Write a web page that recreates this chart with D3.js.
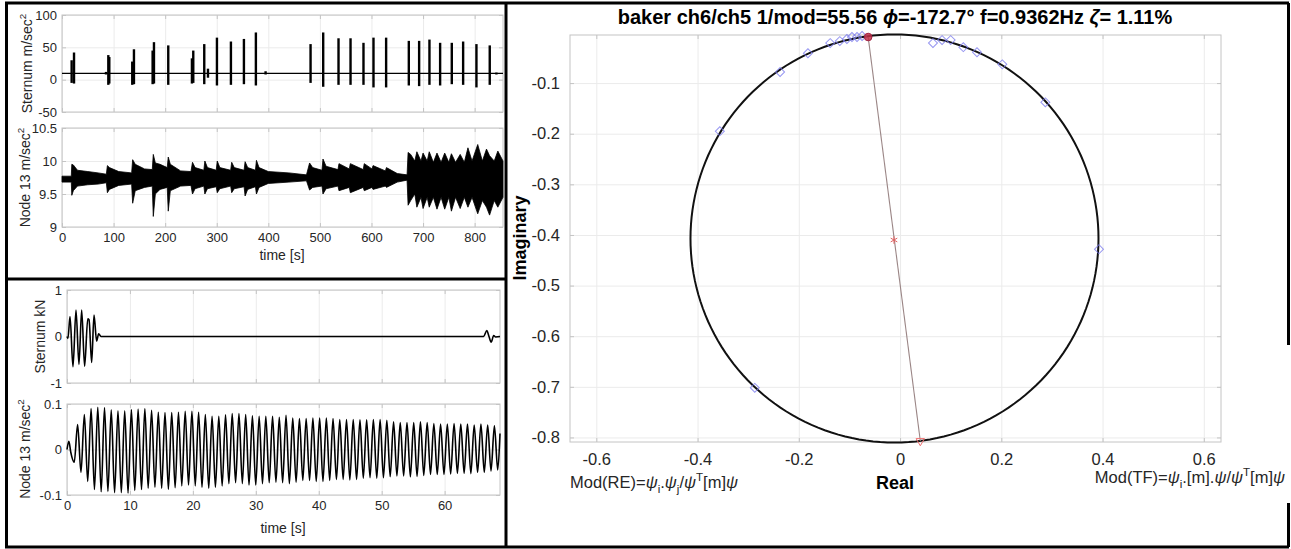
<!DOCTYPE html>
<html><head><meta charset="utf-8">
<script src="https://cdn.jsdelivr.net/npm/d3@7"></script>
<style>
body{margin:0;background:#fff}
svg{display:block}
text{font-family:"Liberation Sans",Arial,Helvetica,sans-serif;}
</style>
</head><body>
<svg id="c" width="1291" height="549"></svg>
<script>
// ---------------- DATA ----------------
// Top-left, panel 1: Sternum m/sec^2 bursts (time s, max, min)
const tlSternT   = [18.7, 23.3, 85.3, 89.8, 91.7, 136.2, 139.5, 175.7, 178.3, 206.0, 251.9, 254.5, 275.8, 283.0, 300.4, 327.5, 352.7, 375.9, 394.7, 481.9, 506.4, 536.1, 559.4, 584.5, 603.9, 628.4, 672.4, 692.4, 712.4, 733.1, 755.7, 777.7, 803.5, 829.3, 842.2];
const tlSternMax = [30, 42, 12, 38, 35, 28, 47, 45, 58, 53, 33, 45, 55, 17, 65, 59, 63, 73, 13, 55, 73, 64, 64, 57, 65, 65, 60, 60, 62, 57, 57, 59, 55, 53, 11];
const tlSternMin = [-5, -6, 8, -8, -6, -8, -7, -7, -6, -8, -6, -5, -7, 3, -9, -8, -7, -9, 8, -5, -11, -8, -8, -8, -12, -12, -9, -10, -8, -9, -7, -8, -12, -8, 8];
const tlSternBase = 9.8;
const tlTimeTicks = [0, 100, 200, 300, 400, 500, 600, 700, 800];
const tlSternTicks = [-50, 0, 50, 100];
// Top-left, panel 2: Node 13 m/sec^2 envelope (time s, upper, lower)
const tlNodeT  = [0, 18, 19, 22, 30, 50, 70, 86, 88, 92, 110, 135, 137, 142, 160, 175, 177, 181, 190, 204, 206, 210, 230, 250, 253, 258, 275, 277, 282, 299, 301, 306, 327, 329, 334, 353, 355, 360, 375, 377, 382, 400, 440, 474, 480, 486, 504, 506, 512, 535, 537, 557, 559, 584, 586, 601, 603, 627, 629, 650, 669, 671, 676, 684, 688, 696, 700, 708, 712, 720, 727, 735, 742, 750, 755, 763, 772, 780, 787, 795, 806, 815, 823, 829, 838, 845, 855];
const tlNodeHi = [9.77, 9.77, 9.95, 9.94, 9.86, 9.84, 9.82, 9.80, 9.93, 9.90, 9.84, 9.82, 10.02, 9.95, 9.88, 9.87, 10.10, 9.97, 9.95, 9.90, 10.06, 9.95, 9.85, 9.84, 9.98, 9.90, 9.86, 10.0, 9.90, 9.86, 10.0, 9.90, 9.86, 9.98, 9.90, 9.86, 9.99, 9.90, 9.86, 10.01, 9.90, 9.84, 9.82, 9.79, 9.97, 9.90, 9.86, 10.03, 9.92, 9.87, 9.96, 9.88, 9.96, 9.87, 9.96, 9.88, 9.93, 9.85, 9.90, 9.81, 9.79, 10.13, 10.10, 10.0, 10.14, 10.0, 10.12, 10.0, 10.14, 9.98, 10.12, 9.98, 10.12, 9.98, 10.11, 9.98, 10.10, 9.98, 10.20, 10.0, 10.25, 10.0, 10.18, 10.08, 10.0, 10.15, 10.0];
const tlNodeLo = [9.68, 9.68, 9.48, 9.55, 9.62, 9.64, 9.65, 9.67, 9.52, 9.57, 9.63, 9.65, 9.36, 9.55, 9.60, 9.62, 9.16, 9.50, 9.57, 9.60, 9.24, 9.55, 9.62, 9.63, 9.50, 9.58, 9.62, 9.50, 9.58, 9.61, 9.52, 9.58, 9.62, 9.52, 9.58, 9.61, 9.47, 9.57, 9.61, 9.50, 9.60, 9.66, 9.68, 9.70, 9.56, 9.60, 9.62, 9.50, 9.58, 9.62, 9.55, 9.60, 9.52, 9.60, 9.55, 9.60, 9.57, 9.62, 9.60, 9.68, 9.71, 9.33, 9.40, 9.50, 9.30, 9.45, 9.28, 9.45, 9.30, 9.45, 9.27, 9.45, 9.27, 9.45, 9.24, 9.45, 9.28, 9.45, 9.30, 9.45, 9.20, 9.40, 9.30, 9.18, 9.40, 9.30, 9.45];
const tlNodeTicks = [9, 9.5, 10, 10.5];

// Bottom-left, panel 3: Sternum kN
const blSternT = [0, 0.15, 0.48, 0.95, 1.43, 1.9, 2.33, 2.8, 3.3, 3.5, 3.92, 4.29, 4.71, 5.03, 5.4, 66.2, 66.7, 67.05, 67.4, 67.8, 68.1, 68.8];
const blSternV = [0, -0.04, 0.43, -0.65, 0.57, -0.6, 0.57, -0.64, 0.38, 0.36, -0.56, 0.46, -0.1, 0.06, 0, 0, 0.13, 0, -0.12, 0.02, -0.01, 0];
const blSternTicks = [-1, 0, 1];
const blTimeTicks = [0, 10, 20, 30, 40, 50, 60];
// Bottom-left, panel 4: Node 13 m/sec^2 (extrema)
const blNodeStartT = [0, 0.3, 0.6, 1.15];
const blNodeStartV = [0, 0.018, -0.006, -0.028];
const blNodePeakT = [1.69, 2.76, 3.83, 4.89, 5.96, 7.03, 8.10, 9.17, 10.23, 11.30, 12.37, 13.44, 14.51, 15.57, 16.64, 17.71, 18.78, 19.85, 20.91, 21.98, 23.05, 24.12, 25.19, 26.25, 27.32, 28.39, 29.46, 30.53, 31.59, 32.66, 33.73, 34.80, 35.87, 36.93, 38.00, 39.07, 40.14, 41.21, 42.27, 43.34, 44.41, 45.48, 46.55, 47.61, 48.68, 49.75, 50.82, 51.89, 52.95, 54.02, 55.09, 56.16, 57.23, 58.29, 59.36, 60.43, 61.50, 62.57, 63.63, 64.70, 65.77, 66.84, 67.91];
const blNodePeakV = [0.055, 0.077, 0.09, 0.093, 0.092, 0.087, 0.085, 0.085, 0.088, 0.089, 0.09, 0.086, 0.082, 0.081, 0.081, 0.082, 0.084, 0.084, 0.082, 0.077, 0.073, 0.073, 0.076, 0.079, 0.079, 0.077, 0.074, 0.073, 0.073, 0.073, 0.071, 0.075, 0.069, 0.068, 0.068, 0.069, 0.069, 0.069, 0.068, 0.066, 0.066, 0.066, 0.065, 0.065, 0.066, 0.066, 0.064, 0.061, 0.059, 0.059, 0.059, 0.061, 0.059, 0.057, 0.056, 0.056, 0.057, 0.056, 0.056, 0.054, 0.056, 0.054, 0.052];
const blNodeTroughT = [2.22, 3.29, 4.36, 5.43, 6.50, 7.56, 8.63, 9.70, 10.77, 11.84, 12.90, 13.97, 15.04, 16.11, 17.18, 18.24, 19.31, 20.38, 21.45, 22.52, 23.58, 24.65, 25.72, 26.79, 27.86, 28.92, 29.99, 31.06, 32.13, 33.20, 34.26, 35.33, 36.40, 37.47, 38.54, 39.60, 40.67, 41.74, 42.81, 43.88, 44.94, 46.01, 47.08, 48.15, 49.22, 50.28, 51.35, 52.42, 53.49, 54.56, 55.62, 56.69, 57.76, 58.83, 59.90, 60.96, 62.03, 63.10, 64.17, 65.24, 66.30, 67.37, 68.44];
const blNodeTroughV = [-0.05, -0.07, -0.088, -0.093, -0.092, -0.095, -0.095, -0.096, -0.09, -0.088, -0.085, -0.083, -0.085, -0.087, -0.084, -0.08, -0.078, -0.08, -0.083, -0.085, -0.083, -0.08, -0.075, -0.073, -0.075, -0.078, -0.078, -0.075, -0.073, -0.072, -0.073, -0.075, -0.072, -0.068, -0.068, -0.07, -0.07, -0.068, -0.066, -0.066, -0.067, -0.066, -0.063, -0.062, -0.063, -0.062, -0.06, -0.058, -0.058, -0.06, -0.059, -0.057, -0.055, -0.055, -0.055, -0.054, -0.052, -0.052, -0.053, -0.05, -0.05, -0.047, -0.045];
const blNodeEndT = [68.8];
const blNodeEndV = [0.035];
const blNodeTicks = [-0.1, 0, 0.1];

// Right panel: modal circle
const circCenter = [-0.011, -0.407];
const circRadius = 0.403;
const poleTop = [-0.063, -0.009];
const poleBottom = [0.040, -0.807];
const starPt = [-0.012, -0.41];
const ptsRe = [-0.356, -0.287, -0.237, -0.182, -0.138, -0.119, -0.105, -0.095, -0.085, -0.075, 0.065, 0.083, 0.100, 0.125, 0.152, 0.202, 0.287, 0.393];
const ptsIm = [-0.195, -0.702, -0.078, -0.041, -0.021, -0.017, -0.013, -0.009, -0.009, -0.007, -0.021, -0.015, -0.015, -0.029, -0.039, -0.063, -0.138, -0.428];
const reTicks = [-0.6, -0.4, -0.2, 0, 0.2, 0.4, 0.6];
const imTicks = [-0.8, -0.7, -0.6, -0.5, -0.4, -0.3, -0.2, -0.1];

// ---------------- DRAW ----------------
const svg = d3.select('#c');
const fmt = d => String(d);
const GRID = '#ebebeb', BOX = '#c4c4c4', TXT = '#262626';

function axes(g, x, y, xt, yt, showX, fs, padX, padY) {
  const [L, R] = x.range(), [B, T] = y.range();
  const gx = g.append('g').attr('transform', `translate(0,${B})`)
    .call(d3.axisBottom(x).tickValues(xt).tickSize(-(B - T)).tickFormat(''));
  const gy = g.append('g').attr('transform', `translate(${L},0)`)
    .call(d3.axisLeft(y).tickValues(yt).tickSize(-(R - L)).tickFormat(''));
  [gx, gy].forEach(a => { a.select('.domain').remove(); a.selectAll('line').attr('stroke', GRID); });
  g.append('rect').attr('x', L).attr('y', T).attr('width', R - L).attr('height', B - T)
    .attr('fill', 'none').attr('stroke', BOX).attr('stroke-width', 1);
  const mk = [
    [d3.axisBottom(x).tickValues(xt).tickSize(-4).tickPadding(padX).tickFormat(showX ? fmt : ''), `translate(0,${B})`],
    [d3.axisTop(x).tickValues(xt).tickSize(-4).tickFormat(''), `translate(0,${T})`],
    [d3.axisLeft(y).tickValues(yt).tickSize(-4).tickPadding(padY).tickFormat(fmt), `translate(${L},0)`],
    [d3.axisRight(y).tickValues(yt).tickSize(-4).tickFormat(''), `translate(${R},0)`]
  ];
  mk.forEach(([ax, tr]) => {
    const a = g.append('g').attr('transform', tr).call(ax);
    a.select('.domain').remove();
    a.selectAll('line').attr('stroke', BOX);
    a.selectAll('text').attr('fill', TXT).attr('font-size', fs)
      .attr('font-family', '"Liberation Sans",Arial,sans-serif');
  });
}

function rich(g, x, y, segs, size, opts = {}) {
  const t = g.append('text').attr('x', x).attr('y', y).attr('font-size', size)
    .attr('fill', opts.fill || TXT).attr('text-anchor', opts.anchor || 'start');
  if (opts.weight) t.attr('font-weight', opts.weight);
  if (opts.transform) t.attr('transform', opts.transform);
  let shift = 0;
  segs.forEach(([s, k]) => {
    const ts = t.append('tspan').text(s);
    const target = k === 'sub' ? size * 0.3 : k === 'sup' ? -size * 0.45 : 0;
    if (target - shift !== 0) ts.attr('dy', target - shift);
    shift = target;
    if (k === 'sub' || k === 'sup') ts.attr('font-size', size * 0.7);
    if (k === 'i') ts.attr('font-style', 'italic');
  });
  return t;
}

function ylab(g, cx, cy, segs, size) {
  rich(g, 0, size * 0.35, segs, size, { anchor: 'middle', transform: `translate(${cx},${cy}) rotate(-90)` });
}

// ---- Top-left panel 1
{
  const g = svg.append('g');
  const x = d3.scaleLinear().domain([0, 855]).range([62, 503]);
  const y = d3.scaleLinear().domain([-50, 100]).range([112, 15]);
  axes(g, x, y, tlTimeTicks, tlSternTicks, false, 13, 6, 5);
  g.append('line').attr('x1', x(0)).attr('x2', x(855)).attr('y1', y(tlSternBase)).attr('y2', y(tlSternBase))
    .attr('stroke', '#000').attr('stroke-width', 1.3);
  g.selectAll(null).data(tlSternT).join('line')
    .attr('x1', d => x(d)).attr('x2', d => x(d))
    .attr('y1', (d, i) => y(tlSternMax[i])).attr('y2', (d, i) => y(tlSternMin[i]))
    .attr('stroke', '#000').attr('stroke-width', 2.4);
  ylab(g, 27, 63.5, [['Sternum m/sec', 'n'], ['2', 'sup']], 14);
}
// ---- Top-left panel 2
{
  const g = svg.append('g');
  const x = d3.scaleLinear().domain([0, 855]).range([62, 503]);
  const y = d3.scaleLinear().domain([9, 10.5]).range([227, 128]);
  axes(g, x, y, tlTimeTicks, tlNodeTicks, true, 13, 6, 5);
  const area = d3.area().x((d, i) => x(tlNodeT[i])).y0((d, i) => y(tlNodeLo[i])).y1((d, i) => y(tlNodeHi[i]));
  g.append('path').datum(tlNodeT).attr('d', area).attr('fill', '#000').attr('stroke', '#000').attr('stroke-width', 0.8);
  ylab(g, 25, 177.5, [['Node 13 m/sec', 'n'], ['2', 'sup']], 14);
  g.append('text').attr('x', 282).attr('y', 260).attr('text-anchor', 'middle').attr('font-size', 14)
    .attr('fill', TXT).text('time [s]');
}
// ---- Bottom-left panel 3
{
  const g = svg.append('g');
  const x = d3.scaleLinear().domain([0, 68.8]).range([67, 500]);
  const y = d3.scaleLinear().domain([-1, 1]).range([383, 290]);
  axes(g, x, y, blTimeTicks, blSternTicks, false, 13, 6, 5);
  const line = d3.line().x(d => x(d[0])).y(d => y(d[1])).curve(d3.curveMonotoneX);
  g.append('path').datum(blSternT.map((t, i) => [t, blSternV[i]])).attr('d', line)
    .attr('fill', 'none').attr('stroke', '#000').attr('stroke-width', 1.6);
  ylab(g, 40, 336.5, [['Sternum kN', 'n']], 14);
}
// ---- Bottom-left panel 4
{
  const g = svg.append('g');
  const x = d3.scaleLinear().domain([0, 68.8]).range([67, 500]);
  const y = d3.scaleLinear().domain([-0.1, 0.1]).range([495, 404]);
  axes(g, x, y, blTimeTicks, blNodeTicks, true, 13, 6, 5);
  const pts = [];
  blNodeStartT.forEach((t, i) => pts.push([t, blNodeStartV[i]]));
  blNodePeakT.forEach((t, i) => pts.push([t, blNodePeakV[i]]));
  blNodeTroughT.forEach((t, i) => pts.push([t, blNodeTroughV[i]]));
  blNodeEndT.forEach((t, i) => pts.push([t, blNodeEndV[i]]));
  pts.sort((a, b) => a[0] - b[0]);
  const line = d3.line().x(d => x(d[0])).y(d => y(d[1])).curve(d3.curveMonotoneX);
  g.append('path').datum(pts).attr('d', line).attr('fill', 'none').attr('stroke', '#000').attr('stroke-width', 1.6);
  ylab(g, 25, 449, [['Node 13 m/sec', 'n'], ['2', 'sup']], 14);
  g.append('text').attr('x', 283).attr('y', 533).attr('text-anchor', 'middle').attr('font-size', 14)
    .attr('fill', TXT).text('time [s]');
}
// ---- Right panel
{
  const g = svg.append('g');
  const x = d3.scaleLinear().domain([-0.652, 0.634]).range([570, 1221]);
  const y = d3.scaleLinear().domain([-0.809, -0.005]).range([442, 35]);
  axes(g, x, y, reTicks, imTicks, true, 16.5, 11, 10);
  // circle
  const ang = d3.range(0, 361, 2).map(a => a * Math.PI / 180);
  const circ = d3.line().x(a => x(circCenter[0] + circRadius * Math.cos(a))).y(a => y(circCenter[1] + circRadius * Math.sin(a)));
  g.append('path').datum(ang).attr('d', circ).attr('fill', 'none').attr('stroke', '#111').attr('stroke-width', 2);
  // diameter line
  g.append('line').attr('x1', x(poleTop[0])).attr('y1', y(poleTop[1])).attr('x2', x(poleBottom[0])).attr('y2', y(poleBottom[1]))
    .attr('stroke', '#9a8585').attr('stroke-width', 1.1);
  // diamonds
  const dia = d3.symbol(d3.symbolSquare, 40);
  g.selectAll(null).data(ptsRe).join('path').attr('d', dia)
    .attr('transform', (d, i) => `translate(${x(d)},${y(ptsIm[i])}) rotate(45)`)
    .attr('fill', 'none').attr('stroke', '#7c7cee').attr('stroke-opacity', 0.8).attr('stroke-width', 1);
  // pole markers
  g.append('circle').attr('cx', x(poleTop[0])).attr('cy', y(poleTop[1])).attr('r', 3.8)
    .attr('fill', '#c03048').attr('fill-opacity', 0.85).attr('stroke', '#a02040');
  const ast = d3.symbol(d3.symbolAsterisk || d3.symbolCross, 40);
  g.append('path').attr('d', ast).attr('transform', `translate(${x(starPt[0])},${y(starPt[1])})`)
    .attr('fill', 'none').attr('stroke', '#e06060').attr('stroke-width', 1);
  const tri = d3.symbol(d3.symbolTriangle, 30);
  g.append('path').attr('d', tri).attr('transform', `translate(${x(poleBottom[0])},${y(poleBottom[1])}) rotate(180)`)
    .attr('fill', 'none').attr('stroke', '#f07070').attr('stroke-width', 1);
  // title
  rich(g, 895, 24, [['baker ch6/ch5 1/mod=55.56 ', 'n'], ['\u03D5', 'i'], ['=-172.7\u00B0 f=0.9362Hz ', 'n'], ['\u03B6', 'i'], ['= 1.11%', 'n']], 20,
    { anchor: 'middle', weight: 'bold', fill: '#000' });
  // axis labels
  g.append('text').attr('transform', 'translate(526,238) rotate(-90)').attr('text-anchor', 'middle')
    .attr('font-size', 18).attr('font-weight', 'bold').attr('fill', '#000').text('Imaginary');
  g.append('text').attr('x', 895).attr('y', 489).attr('text-anchor', 'middle')
    .attr('font-size', 18).attr('font-weight', 'bold').attr('fill', '#000').text('Real');
  rich(g, 570, 488, [['Mod(RE)=', 'n'], ['\u03C8', 'i'], ['i', 'sub'], ['.', 'n'], ['\u03C8', 'i'], ['j', 'sub'], ['/', 'n'], ['\u03C8', 'i'], ['T', 'sup'], ['[m]', 'n'], ['\u03C8', 'i']], 16.5);
  rich(g, 1285, 483, [['Mod(TF)=', 'n'], ['\u03C8', 'i'], ['i', 'sub'], ['.[m].', 'n'], ['\u03C8', 'i'], ['/', 'n'], ['\u03C8', 'i'], ['T', 'sup'], ['[m]', 'n'], ['\u03C8', 'i']], 16.5, { anchor: 'end' });
}
// ---- Panel frame
const frame = svg.append('g').attr('stroke', '#000').attr('stroke-width', 3);
[[5, 3, 1289, 3], [5, 547, 1289, 547], [6.5, 3, 6.5, 547], [506, 3, 506, 547], [1288.5, 3, 1288.5, 345], [1288.5, 503, 1288.5, 547], [5, 279, 506, 279]]
  .forEach(([a, b, c, d]) => frame.append('line').attr('x1', a).attr('y1', b).attr('x2', c).attr('y2', d));
</script>
</body></html>
